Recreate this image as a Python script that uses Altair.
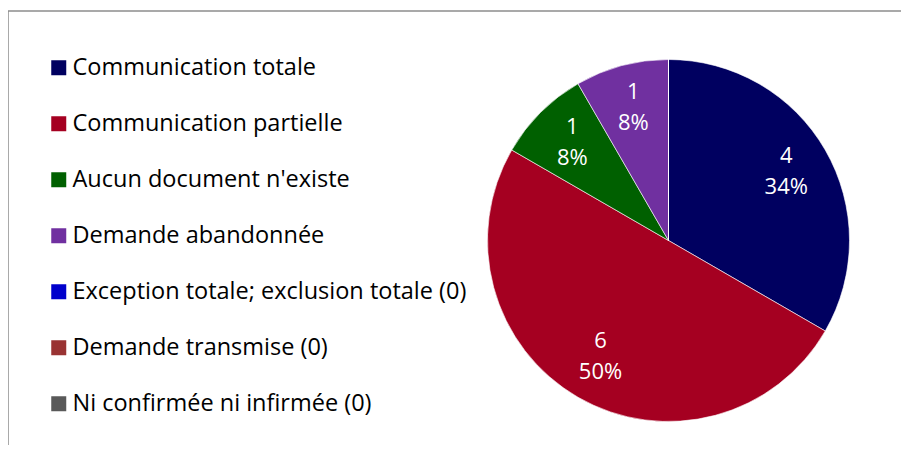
import altair as alt
import pandas as pd

categories = [
    "Communication totale",
    "Communication partielle",
    "Aucun document n'existe",
    "Demande abandonnée",
    "Exception totale; exclusion totale (0)",
    "Demande transmise (0)",
    "Ni confirmée ni infirmée (0)",
]
values = [4, 6, 1, 1, 0, 0, 0]
percents = ["34%", "50%", "8%", "8%", "0%", "0%", "0%"]
colors = ["#000060", "#A50021", "#006000", "#7030A0", "#0000CC", "#993333", "#595959"]

df = pd.DataFrame({
    "cat": categories,
    "value": values,
    "idx": list(range(len(categories))),
    "label": [f"{v}\n{p}" for v, p in zip(values, percents)],
})

W, H = 893, 437
CX, CY, R = 660.5, 232.5, 181

color = alt.Color(
    "cat:N",
    scale=alt.Scale(domain=categories, range=colors),
    legend=alt.Legend(
        title=None,
        orient="none",
        legendX=39,
        legendY=48,
        symbolType="square",
        symbolSize=225,
        symbolStrokeWidth=0,
        symbolOpacity=1,
        labelFontSize=23.5,
        labelFont="Open Sans",
        labelColor="#000000",
        labelLimit=600,
        labelOffset=2,
        rowPadding=31,
    ),
)

base = alt.Chart(df)

pie = base.mark_arc(radius=R, stroke="#ffffff", strokeWidth=0.6).encode(
    theta=alt.Theta("value:Q", stack=True),
    color=color,
    order=alt.Order("idx:Q"),
    x=alt.value(CX),
    y=alt.value(CY),
)

labels = base.transform_filter("datum.value > 0").mark_text(
    radius=136, fontSize=22, font="Open Sans", color="white", lineBreak="\n", lineHeight=31,
    align="center", baseline="middle", dy=-17,
).encode(
    theta=alt.Theta("value:Q", stack=True),
    order=alt.Order("idx:Q"),
    text="label:N",
    x=alt.value(CX),
    y=alt.value(CY),
)

frame_top = alt.Chart(alt.Data(values=[{}])).mark_rule(color="#8c8c8c", strokeWidth=1.5).encode(
    x=alt.value(0), x2=alt.value(W), y=alt.value(3)
)
frame_left = alt.Chart(alt.Data(values=[{}])).mark_rule(color="#8c8c8c", strokeWidth=1.5).encode(
    x=alt.value(0), y=alt.value(3), y2=alt.value(H)
)

chart = alt.layer(pie, labels, frame_top, frame_left).properties(
    width=W, height=H, padding=0, autosize=alt.AutoSizeParams(type="none"),
).configure_view(stroke=None)

chart.save("out.html", embed_options={"renderer": "svg", "actions": False})
